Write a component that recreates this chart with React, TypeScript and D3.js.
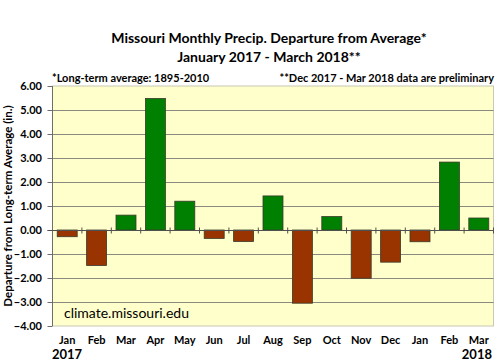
import { useRef, useEffect } from "react";
import * as d3 from "d3";

// Data
const months = ["Jan", "Feb", "Mar", "Apr", "May", "Jun", "Jul", "Aug", "Sep", "Oct", "Nov", "Dec", "Jan", "Feb", "Mar"];
const departures = [-0.28, -1.48, 0.62, 5.48, 1.2, -0.35, -0.48, 1.42, -3.05, 0.56, -2.01, -1.34, -0.49, 2.83, 0.5];
const yTicks = [-4, -3, -2, -1, 0, 1, 2, 3, 4, 5, 6];
const titleLines = ["Missouri Monthly Precip. Departure from Average*", "January 2017 - March 2018**"];

export default function App() {
  const ref = useRef<SVGSVGElement>(null);

  function drawChart() {
    const width = 500,
      height = 362;
    const margin = { top: 86, right: 6.5, bottom: 36, left: 52.5 };
    const font = "Lato, 'Open Sans', sans-serif";

    const svg = d3.select(ref.current);
    svg.selectAll("*").remove();

    const x = d3
      .scaleBand<number>()
      .domain(d3.range(months.length))
      .range([margin.left, width - margin.right])
      .paddingInner(0.32)
      .paddingOuter(0.16);
    const y = d3.scaleLinear().domain([-4, 6]).range([height - margin.bottom, margin.top]);
    const step = x.step();
    const x0 = margin.left;
    const x1 = width - margin.right;

    // plot area
    svg
      .append("rect")
      .attr("x", x0)
      .attr("y", y(6))
      .attr("width", x1 - x0)
      .attr("height", y(-4) - y(6))
      .attr("fill", "#ffffcc")
      .attr("stroke", "#c8c8b4")
      .attr("stroke-width", 1);

    // gridlines
    svg
      .append("g")
      .selectAll("line")
      .data(yTicks.filter((d) => d !== 0 && d !== 6 && d !== -4))
      .join("line")
      .attr("x1", x0)
      .attr("x2", x1)
      .attr("y1", (d) => Math.round(y(d)) + 0.5)
      .attr("y2", (d) => Math.round(y(d)) + 0.5)
      .attr("stroke", "#8a8a80")
      .attr("stroke-width", 1);

    // bars
    svg
      .append("g")
      .selectAll("rect")
      .data(departures)
      .join("rect")
      .attr("x", (d, i) => x(i)!)
      .attr("y", (d) => y(Math.max(0, d)))
      .attr("width", x.bandwidth())
      .attr("height", (d) => Math.abs(y(d) - y(0)))
      .attr("fill", (d) => (d >= 0 ? "#008000" : "#993300"))
      .attr("stroke", "#3a3a2a")
      .attr("stroke-width", 0.8);

    // y axis
    const gY = svg.append("g");
    gY.append("line")
      .attr("x1", x0)
      .attr("x2", x0)
      .attr("y1", y(6))
      .attr("y2", y(-4))
      .attr("stroke", "#6e6e6e");
    gY.selectAll("line.tick")
      .data(yTicks)
      .join("line")
      .attr("class", "tick")
      .attr("x1", x0 - 5)
      .attr("x2", x0)
      .attr("y1", (d) => Math.round(y(d)) + 0.5)
      .attr("y2", (d) => Math.round(y(d)) + 0.5)
      .attr("stroke", "#6e6e6e");
    gY.selectAll("text")
      .data(yTicks)
      .join("text")
      .attr("x", 42)
      .attr("y", (d) => y(d))
      .attr("dy", "0.36em")
      .attr("text-anchor", "end")
      .attr("font-family", font)
      .attr("font-weight", "bold")
      .attr("font-size", 11)
      .text((d) => d3.format(".2f")(d));

    // zero line with crossing ticks
    const zy = Math.round(y(0)) + 0.5;
    const gX = svg.append("g");
    gX.append("line")
      .attr("x1", x0 - 5)
      .attr("x2", x1)
      .attr("y1", zy)
      .attr("y2", zy)
      .attr("stroke", "#505050");
    gX.selectAll("line.tick")
      .data(d3.range(1, months.length + 1))
      .join("line")
      .attr("class", "tick")
      .attr("x1", (i) => x0 + i * step)
      .attr("x2", (i) => x0 + i * step)
      .attr("y1", zy - 3)
      .attr("y2", zy + 3)
      .attr("stroke", "#505050");

    // month labels
    svg
      .append("g")
      .selectAll("text")
      .data(months)
      .join("text")
      .attr("x", (d, i) => x(i)! + x.bandwidth() / 2)
      .attr("y", 343.5)
      .attr("text-anchor", "middle")
      .attr("font-family", font)
      .attr("font-weight", "bold")
      .attr("font-size", 11)
      .text((d) => d);

    // years
    svg
      .append("text")
      .attr("x", 52)
      .attr("y", 359)
      .attr("font-family", font)
      .attr("font-weight", "bold")
      .attr("font-size", 13)
      .text("2017");
    svg
      .append("text")
      .attr("x", 492)
      .attr("y", 359)
      .attr("text-anchor", "end")
      .attr("font-family", font)
      .attr("font-weight", "bold")
      .attr("font-size", 13)
      .text("2018");

    // title
    svg
      .append("g")
      .selectAll("text")
      .data(titleLines)
      .join("text")
      .attr("x", 269)
      .attr("y", (d, i) => 43 + i * 19)
      .attr("text-anchor", "middle")
      .attr("font-family", font)
      .attr("font-weight", "bold")
      .attr("font-size", 14)
      .text((d) => d);

    // notes
    svg
      .append("text")
      .attr("x", 52)
      .attr("y", 82)
      .attr("font-family", font)
      .attr("font-weight", "bold")
      .attr("font-size", 11)
      .text("*Long-term  average: 1895-2010");
    svg
      .append("text")
      .attr("x", 494)
      .attr("y", 82)
      .attr("text-anchor", "end")
      .attr("font-family", font)
      .attr("font-weight", "bold")
      .attr("font-size", 11)
      .text("**Dec 2017 - Mar 2018 data are preliminary");

    // y axis title
    svg
      .append("text")
      .attr("transform", `translate(11.5,${(y(6) + y(-4)) / 2}) rotate(-90)`)
      .attr("text-anchor", "middle")
      .attr("font-family", font)
      .attr("font-weight", "bold")
      .attr("font-size", 11.5)
      .text("Departure from Long-term Average (in.)");

    // source
    svg
      .append("text")
      .attr("x", 64)
      .attr("y", 318)
      .attr("font-family", font)
      .attr("font-size", 14)
      .text("climate.missouri.edu");
  }

  useEffect(drawChart, []);
  return (
    <>
      <svg
        ref={ref}
        width={500}
        height={362}
        style={{ position: "absolute", left: 0, top: 0, background: "#fff" }}
      ></svg>
    </>
  );
}
